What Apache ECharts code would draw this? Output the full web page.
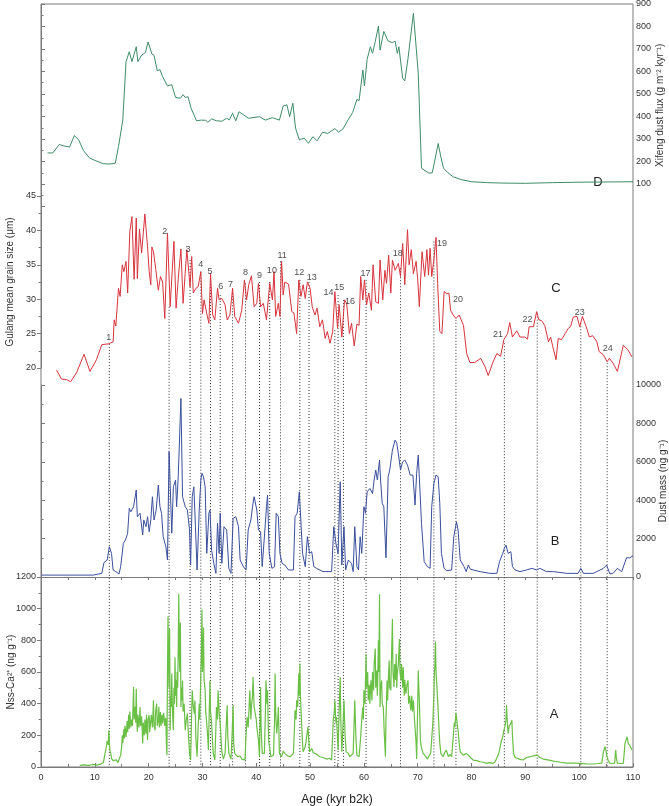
<!DOCTYPE html>
<html><head><meta charset="utf-8">
<script src="https://cdn.jsdelivr.net/npm/echarts@6.0.0/dist/echarts.min.js"></script>
<style>html,body{margin:0;padding:0;background:#fff}#c{width:669px;height:806px}</style>
</head><body><div id="c"></div>
<script>
// ---------- DATA ----------
// D: Xifeng dust flux (g m-2 kyr-1) vs age (kyr b2k)
const xifengFlux = [[1.2,238],[2.2,238],[3.4,276],[4.1,270],[5.3,264],[6.2,315],[7.0,296],[7.9,248],[9.0,216],[10.0,205],[11.6,190],[12.8,189],[13.8,192],[14.4,266],[15.2,384],[15.8,644],[16.4,688],[16.9,644],[17.7,710],[18.0,644],[18.7,673],[19.4,684],[19.9,731],[20.6,678],[21.0,672],[21.6,604],[22.1,608],[22.6,577],[23.5,536],[24.3,541],[25.0,485],[25.9,481],[26.4,497],[26.8,485],[27.3,488],[27.9,436],[28.9,381],[29.8,384],[30.6,383],[31.0,374],[31.7,389],[32.6,381],[33.6,379],[34.5,392],[35.0,385],[35.6,414],[36.2,381],[36.8,421],[37.6,408],[38.6,392],[39.4,395],[40.6,399],[41.7,384],[43.0,395],[44.3,384],[45.0,447],[45.7,452],[46.2,399],[46.8,459],[47.3,348],[48.0,296],[48.9,304],[49.7,281],[50.5,310],[51.3,292],[52.3,330],[53.3,325],[54.6,346],[55.3,331],[56.1,344],[56.9,379],[57.9,417],[58.7,476],[59.1,470],[59.8,607],[60.1,536],[60.6,654],[61.2,710],[61.6,681],[62.1,732],[62.7,802],[63.0,695],[63.7,778],[64.5,735],[65.3,728],[65.8,735],[66.2,681],[66.5,710],[67.2,570],[67.6,558],[68.2,659],[68.4,659],[69.2,859],[70.1,592],[70.7,170],[72.1,148],[72.7,150],[73.3,220],[73.8,280],[74.3,220],[74.8,170],[75.6,150],[76.6,132],[78.0,120],[80.0,110],[83.0,106],[86.0,104],[90.0,103],[95.0,106],[100.0,108],[105.0,109],[110.0,110]];

// C: Gulang mean grain size (um)
const gulangGrain = [[2.9,19.7],[3.8,18.4],[4.8,18.3],[5.5,18.0],[6.6,19.3],[8.0,22.0],[9.1,19.5],[10.3,21.2],[11.3,23.4],[12.5,23.5],[13.4,23.8],[13.6,27.0],[13.9,26.1],[14.4,31.6],[14.7,30.4],[15.1,35.0],[15.4,34.0],[15.8,35.5],[16.1,30.9],[16.5,39.8],[16.9,42.0],[17.3,32.9],[17.7,41.8],[17.9,33.0],[18.3,40.2],[18.7,36.7],[19.0,36.5],[19.3,42.4],[19.8,37.6],[20.1,34.0],[20.4,32.1],[20.6,37.6],[20.9,36.9],[21.3,34.5],[21.8,31.3],[22.2,33.3],[22.6,32.5],[23.0,27.2],[23.5,39.6],[24.0,28.9],[24.7,38.4],[25.1,28.7],[25.5,33.0],[26.0,37.3],[26.4,29.4],[27.1,37.2],[27.7,31.8],[28.0,36.2],[28.3,30.9],[28.8,31.6],[29.2,31.8],[29.7,34.0],[30.0,27.9],[30.3,29.9],[30.8,27.9],[31.2,26.5],[31.5,33.7],[31.9,27.7],[32.3,27.0],[32.8,31.6],[33.1,29.9],[33.6,30.1],[34.2,29.2],[34.6,27.0],[35.1,27.7],[35.6,31.6],[36.0,27.5],[36.7,26.5],[37.3,28.4],[37.8,32.8],[38.2,29.9],[38.6,32.1],[39.1,33.4],[39.6,28.9],[40.1,29.4],[40.4,32.3],[40.8,28.9],[41.3,29.4],[41.9,27.0],[42.5,32.3],[43.0,29.9],[43.3,34.0],[43.6,27.5],[44.1,29.4],[44.4,27.5],[44.7,35.5],[45.0,30.6],[45.3,32.5],[46.0,32.2],[46.6,28.2],[47.0,28.0],[47.5,25.0],[47.9,32.8],[48.3,30.4],[48.7,32.1],[49.1,30.1],[49.5,32.5],[50.0,31.6],[50.4,28.9],[50.9,27.7],[51.3,28.7],[51.8,26.0],[52.3,27.0],[52.8,24.3],[53.2,25.3],[53.7,23.6],[54.2,25.3],[54.6,31.1],[55.1,25.8],[55.4,29.2],[55.9,24.5],[56.4,29.9],[56.8,29.4],[57.3,25.0],[57.7,26.5],[58.2,23.2],[58.7,26.4],[59.1,26.2],[59.4,33.3],[59.8,29.9],[60.1,32.8],[60.5,29.2],[60.9,30.9],[61.4,28.4],[61.7,35.0],[62.2,29.6],[62.7,29.4],[63.0,35.7],[63.5,29.9],[63.9,34.2],[64.2,32.3],[64.6,36.4],[65.0,30.9],[65.3,35.7],[65.8,34.2],[66.4,35.2],[66.8,33.3],[67.2,38.1],[67.6,32.1],[68.1,40.1],[68.4,35.0],[68.8,37.2],[69.2,33.7],[69.7,35.5],[70.0,32.8],[70.3,28.9],[70.8,36.9],[71.3,33.3],[71.7,37.2],[72.0,33.5],[72.3,37.4],[72.6,33.3],[73.0,35.7],[73.4,39.0],[73.7,32.3],[74.1,25.3],[74.5,25.0],[74.9,31.1],[75.4,30.8],[75.8,30.9],[76.1,28.4],[76.6,27.7],[77.1,27.2],[77.7,27.7],[78.5,26.2],[79.1,22.1],[79.7,20.8],[80.6,20.8],[81.7,21.4],[82.5,20.2],[83.1,18.9],[83.9,20.7],[84.7,22.1],[85.4,21.7],[86.0,24.1],[86.7,25.0],[87.1,26.6],[87.6,24.5],[88.4,25.4],[89.0,24.5],[89.9,24.5],[90.4,24.2],[90.7,26.0],[91.5,26.0],[92.1,28.2],[92.5,27.0],[93.0,26.9],[93.6,26.2],[94.3,23.8],[94.7,24.5],[95.1,23.1],[95.7,21.2],[96.1,24.3],[96.7,24.1],[97.4,25.0],[98.0,25.8],[98.4,26.0],[98.9,27.4],[99.6,27.5],[100.1,26.0],[100.6,27.5],[101.3,26.0],[101.9,24.5],[102.5,24.7],[103.3,23.8],[103.7,22.4],[104.5,21.9],[105.2,20.9],[105.6,21.4],[106.3,20.7],[107.1,19.5],[108.2,23.3],[109.1,22.6],[109.8,21.6]];

// B: Dust mass (ng g-1)
const dustMass = [[0.1,100],[9.7,100],[11.3,190],[11.7,750],[12.3,885],[12.7,1580],[13.1,1230],[13.4,365],[13.9,280],[14.5,156],[14.8,540],[15.3,1750],[15.7,1930],[16.1,2280],[16.4,3580],[16.7,3400],[17.2,3660],[17.7,4530],[17.9,3140],[18.4,3320],[18.9,2190],[19.1,2970],[19.5,2620],[19.8,3140],[20.1,2360],[20.4,2970],[20.7,4180],[21.0,2970],[21.4,3490],[21.8,4790],[22.1,3660],[22.4,3320],[22.7,2100],[23.2,1580],[23.5,885],[23.8,6530],[24.1,6610],[24.3,2280],[24.6,4700],[25.0,5050],[25.2,3660],[25.5,5220],[26.0,9300],[26.3,4180],[26.8,3660],[27.2,3490],[27.6,2450],[27.8,625],[28.1,4180],[28.4,4700],[28.7,2620],[29.0,365],[29.4,3490],[29.7,5050],[29.9,5400],[30.2,5220],[30.5,4700],[30.8,1230],[31.2,3320],[31.4,3490],[31.7,1400],[32.1,710],[32.5,190],[32.8,2800],[33.1,1230],[33.3,3320],[33.6,710],[34.0,2620],[34.5,2450],[34.9,450],[35.3,190],[35.7,3050],[36.2,3140],[36.7,2620],[37.0,885],[37.6,540],[38.1,365],[38.5,2450],[39.0,2970],[39.3,3660],[39.6,4180],[40.1,3490],[40.4,2450],[40.8,2360],[41.1,540],[41.6,2450],[41.9,3660],[42.1,4270],[42.4,1230],[42.9,450],[43.4,540],[43.7,3320],[44.1,3140],[44.4,1230],[44.8,710],[45.3,625],[46.0,365],[46.9,365],[47.2,3140],[47.6,3320],[48.0,4440],[48.3,4350],[48.6,1230],[49.1,540],[49.5,2100],[49.9,1230],[50.3,1320],[50.7,540],[51.2,450],[52.4,280],[54.0,280],[54.4,2620],[54.8,1750],[55.2,1230],[55.6,4960],[55.9,625],[56.3,2620],[56.6,365],[57.1,885],[57.7,710],[58.0,280],[58.3,2620],[58.7,540],[59.0,365],[59.3,2100],[59.6,1230],[60.0,3660],[60.3,3320],[60.6,4440],[61.1,4610],[61.6,4350],[61.9,5050],[62.2,5570],[62.5,5050],[62.9,6090],[63.1,5050],[63.4,3840],[63.7,3660],[64.1,1000],[64.5,5220],[64.8,5570],[65.3,6610],[65.8,7130],[66.1,6960],[66.4,6440],[66.8,5570],[67.2,6000],[67.6,6090],[68.1,5830],[68.6,5310],[69.1,5310],[69.5,3750],[69.8,5400],[70.1,6350],[70.4,6350],[70.7,2800],[71.2,800],[71.8,540],[72.3,450],[72.6,3660],[73.0,4870],[73.4,5310],[73.8,5220],[74.1,3840],[74.4,1230],[74.9,450],[75.4,330],[76.3,365],[76.7,2100],[77.2,2880],[77.5,2450],[77.9,885],[78.2,800],[78.6,540],[79.0,280],[79.4,625],[79.8,400],[81.6,280],[83.4,190],[84.7,190],[85.2,800],[85.8,1230],[86.1,1490],[86.4,1660],[86.8,1230],[87.3,1320],[87.6,540],[88.1,365],[89.0,280],[90.2,365],[91.2,450],[92.1,365],[92.7,450],[93.9,280],[95.2,280],[97.7,190],[99.8,190],[100.3,450],[100.8,190],[102.6,190],[104.5,450],[105.1,625],[105.7,160],[106.3,190],[107.1,450],[107.9,280],[108.2,190],[108.8,1000],[109.4,1000],[110.0,1100]];

// A: Nss-Ca2+ (ng g-1)
const nssCa = [[7.2,10],[8.0,14],[8.8,10],[9.6,16],[10.4,12],[11.2,20],[11.6,28],[11.9,86],[12.1,120],[12.3,165],[12.5,140],[12.6,232],[12.7,150],[12.8,107],[13.0,80],[13.1,55],[13.4,40],[13.7,33],[14.0,45],[14.3,28],[14.5,23],[14.8,75],[15.0,130],[15.1,200],[15.2,150],[15.4,240],[15.5,180],[15.6,260],[15.8,190],[16.0,290],[16.1,220],[16.3,330],[16.4,240],[16.5,350],[16.7,250],[16.8,300],[17.0,260],[17.2,505],[17.3,300],[17.5,380],[17.6,280],[17.7,494],[17.8,300],[17.9,222],[18.0,330],[18.2,250],[18.4,379],[18.5,260],[18.7,320],[18.9,149],[19.0,280],[19.2,200],[19.3,300],[19.5,210],[19.6,330],[19.8,170],[19.9,300],[20.1,327],[20.2,220],[20.4,212],[20.5,330],[20.7,250],[20.9,421],[21.0,260],[21.2,232],[21.3,350],[21.5,400],[21.6,260],[21.8,295],[21.9,380],[22.0,250],[22.2,347],[22.3,260],[22.5,330],[22.6,275],[22.8,340],[23.0,260],[23.2,310],[23.3,150],[23.4,75],[23.5,600],[23.6,950],[23.7,650],[23.8,500],[23.9,873],[24.0,232],[24.1,450],[24.2,380],[24.3,590],[24.4,400],[24.5,300],[24.6,232],[24.7,500],[24.8,400],[24.9,693],[25.0,450],[25.1,550],[25.2,379],[25.3,600],[25.4,500],[25.5,750],[25.6,1093],[25.7,700],[25.8,600],[25.9,913],[26.0,379],[26.1,500],[26.2,420],[26.3,547],[26.4,350],[26.6,400],[26.8,232],[27.0,300],[27.2,337],[27.4,200],[27.6,88],[27.8,44],[28.0,350],[28.1,484],[28.3,380],[28.5,337],[28.6,420],[28.8,170],[29.0,65],[29.2,250],[29.4,400],[29.5,300],[29.7,590],[29.8,700],[29.9,995],[30.0,600],[30.1,700],[30.2,881],[30.3,550],[30.5,484],[30.6,350],[30.8,275],[31.0,180],[31.1,107],[31.3,400],[31.4,547],[31.5,350],[31.7,275],[31.9,150],[32.0,86],[32.3,44],[32.5,250],[32.6,379],[32.8,300],[32.9,484],[33.1,350],[33.3,275],[33.5,150],[33.6,96],[33.9,50],[34.2,86],[34.4,250],[34.6,390],[34.7,200],[34.9,86],[35.3,50],[35.5,200],[35.7,390],[35.8,150],[36.0,86],[36.5,65],[37.0,70],[37.3,50],[37.9,44],[38.1,200],[38.3,316],[38.5,250],[38.8,484],[39.0,300],[39.1,379],[39.3,450],[39.4,568],[39.6,380],[39.8,379],[40.0,300],[40.1,253],[40.4,170],[40.6,65],[40.7,300],[40.8,505],[40.9,250],[41.1,86],[41.5,86],[41.7,350],[41.8,547],[42.0,400],[42.1,484],[42.2,300],[42.3,170],[42.7,65],[43.2,75],[43.4,300],[43.5,590],[43.6,350],[43.8,212],[44.0,300],[44.1,379],[44.3,86],[44.7,65],[45.0,100],[45.3,86],[45.8,70],[46.3,65],[46.9,86],[47.1,250],[47.2,358],[47.4,300],[47.5,421],[47.7,380],[47.9,590],[48.0,450],[48.1,653],[48.2,450],[48.4,295],[48.6,150],[48.7,96],[49.0,120],[49.2,149],[49.4,200],[49.6,253],[49.8,150],[49.9,96],[50.3,117],[50.6,90],[50.9,86],[51.3,80],[51.8,65],[52.4,60],[53.1,50],[53.6,55],[54.0,44],[54.2,200],[54.3,295],[54.5,350],[54.6,421],[54.8,280],[54.9,316],[55.2,107],[55.4,350],[55.6,568],[55.7,300],[55.9,96],[56.1,250],[56.3,421],[56.5,200],[56.7,96],[57.1,86],[57.4,65],[58.0,86],[58.2,300],[58.3,421],[58.5,200],[58.7,75],[59.1,65],[59.4,191],[59.6,300],[59.8,379],[59.9,300],[60.0,484],[60.2,400],[60.4,714],[60.5,500],[60.7,600],[60.8,421],[61.0,520],[61.1,400],[61.3,547],[61.5,420],[61.6,600],[61.8,484],[61.9,650],[62.1,748],[62.2,500],[62.4,610],[62.5,450],[62.7,800],[62.8,600],[62.9,1091],[63.0,379],[63.1,500],[63.3,547],[63.4,400],[63.6,379],[63.8,200],[64.0,65],[64.1,300],[64.3,547],[64.4,420],[64.6,600],[64.7,672],[64.8,500],[65.0,484],[65.1,650],[65.3,934],[65.4,600],[65.6,505],[65.7,650],[65.9,550],[66.0,714],[66.1,500],[66.2,590],[66.4,650],[66.6,808],[66.7,600],[66.9,547],[67.0,650],[67.2,500],[67.3,630],[67.5,450],[67.6,550],[67.8,463],[68.0,520],[68.2,547],[68.3,400],[68.5,450],[68.7,358],[68.9,450],[69.0,350],[69.2,421],[69.4,300],[69.5,295],[69.7,150],[69.8,50],[70.0,400],[70.1,610],[70.2,500],[70.3,421],[70.5,170],[70.7,120],[71.0,86],[71.4,70],[71.8,50],[72.1,70],[72.4,86],[72.6,180],[72.8,275],[73.0,450],[73.1,590],[73.2,650],[73.3,792],[73.4,600],[73.6,484],[73.8,350],[74.0,212],[74.1,150],[74.3,86],[74.7,65],[75.0,90],[75.3,107],[75.7,65],[76.0,80],[76.3,65],[76.5,150],[76.6,191],[76.8,280],[76.9,253],[77.1,340],[77.2,316],[77.4,250],[77.5,232],[77.7,150],[77.9,96],[78.2,90],[78.5,75],[79.0,85],[79.4,75],[79.8,60],[80.3,44],[81.0,40],[81.6,33],[82.2,30],[82.8,23],[83.4,28],[84.0,23],[84.4,35],[84.7,44],[85.0,80],[85.2,107],[85.5,160],[85.8,191],[86.0,230],[86.2,253],[86.4,300],[86.5,390],[86.7,250],[86.8,212],[87.0,260],[87.3,275],[87.5,295],[87.6,200],[87.8,86],[88.1,60],[88.4,50],[89.0,48],[89.6,44],[90.2,60],[90.9,65],[91.5,70],[92.2,75],[92.7,60],[93.3,50],[94.2,45],[95.2,37],[96.5,30],[97.7,25],[99.0,24],[100.1,23],[101.3,20],[102.6,19],[103.5,22],[104.2,25],[104.4,70],[104.5,96],[104.8,128],[105.0,100],[105.1,75],[105.4,40],[105.7,25],[106.2,22],[106.6,25],[106.7,80],[106.8,107],[106.9,60],[107.1,25],[107.6,22],[108.2,23],[108.4,100],[108.5,149],[108.7,170],[108.9,191],[109.1,150],[109.3,149],[109.5,130],[109.8,107]];

// Interstadial events: age of dotted line, grain size where the line starts, label text and label anchor
const eventAges = [12.7,23.8,27.7,29.7,31.5,33.3,35.6,38.0,40.6,42.5,44.5,48.1,49.8,54.6,55.2,56.2,60.4,66.8,73.0,77.1,86.1,92.2,100.3,105.2];
const eventTops = [23.5,28.9,35.7,34.0,33.5,30.6,31.3,32.3,32.5,32.5,35.5,32.8,32.5,25.5,30.6,29.9,32.8,34.5,38.4,27.0,23.6,27.9,26.5,20.7];
const eventNames = ['1','2','3','4','5','6','7','8','9','10','11','12','13','14','15','16','17','18','19','20','21','22','23','24'];
const eventLabelAt = [[12.6,24.4],[23.0,39.8],[27.3,37.2],[29.7,35.0],[31.4,34.0],[33.4,31.9],[35.2,32.2],[38.0,33.9],[40.6,33.4],[42.9,34.2],[44.8,36.4],[48.0,33.9],[50.3,33.2],[53.4,31.0],[55.4,31.7],[57.4,29.6],[60.3,33.7],[66.3,36.7],[74.5,38.1],[77.5,30.0],[84.9,24.9],[90.4,27.0],[100.1,28.1],[105.3,22.8]];

const xTicksMin = 0, xTicksMax = 110;

// ---------- LAYOUT ----------
const L = 41, W = 592;
const D_TOP = 4, D_H = 202.5;
const C_TOP = 196, C_H = 172, C_MIN = 20, C_MAX = 45;
const B_TOP = 385, B_H = 192;
const A_TOP = 577, A_H = 190;
const BOTTOM = A_TOP + A_H;
const cBottomVal = C_MIN - (BOTTOM - (C_TOP + C_H)) * (C_MAX - C_MIN) / C_H;

const FONT = 'Liberation Sans, Arial, Helvetica, sans-serif';
const AX = '#7a7a7a', TXT = '#333';
const plain = v => String(v);

function grid(top, h, extra) {
  return Object.assign({left: L, width: W, top: top, height: h, containLabel: false, outerBoundsMode: 'none'}, extra || {});
}
function hiddenX(gi) {
  return {type: 'value', gridIndex: gi, min: xTicksMin, max: xTicksMax, show: false};
}
function yAx(gi, pos, min, max, interval, name, gap, extra) {
  return Object.assign({
    type: 'value', gridIndex: gi, position: pos, min: min, max: max, interval: interval,
    name: name, nameLocation: 'middle', nameRotate: 90, nameGap: gap, nameMoveOverlap: false,
    nameTextStyle: {fontFamily: FONT, fontSize: 10, color: TXT},
    axisLine: {show: true, lineStyle: {color: AX, width: 1}},
    axisTick: {show: true, inside: false, length: 4, lineStyle: {color: AX}},
    minorTick: {show: true, splitNumber: 2, length: 2.5, lineStyle: {color: AX}},
    axisLabel: {fontFamily: FONT, fontSize: 9, color: TXT, margin: pos === 'right' ? 3 : 5, formatter: plain},
    splitLine: {show: false}
  }, extra || {});
}

const eventLines = [];
eventAges.forEach((a, i) => {
  eventLines.push([a, eventTops[i]], [a, cBottomVal], [a, '-']);
});
const eventLabels = eventLabelAt.map((p, i) => ({value: p, name: eventNames[i]}));

const option = {
  animation: false,
  backgroundColor: '#fff',
  grid: [
    grid(D_TOP, BOTTOM - D_TOP, {show: true, borderColor: AX, borderWidth: 1, backgroundColor: 'transparent'}),
    grid(D_TOP, D_H),
    grid(C_TOP, C_H),
    grid(B_TOP, B_H),
    grid(A_TOP, A_H)
  ],
  xAxis: [
    hiddenX(0), hiddenX(1), hiddenX(2),
    {type: 'value', gridIndex: 3, min: xTicksMin, max: xTicksMax, interval: 5,
     axisLine: {show: true, lineStyle: {color: AX}},
     axisTick: {show: true, inside: false, length: 3, lineStyle: {color: AX}},
     axisLabel: {show: false}, splitLine: {show: false}},
    {type: 'value', gridIndex: 4, min: xTicksMin, max: xTicksMax, interval: 10,
     name: 'Age (kyr b2k)', nameLocation: 'middle', nameGap: 27,
     nameTextStyle: {fontFamily: FONT, fontSize: 12, color: '#222'},
     axisLine: {show: true, lineStyle: {color: AX}},
     axisTick: {show: true, inside: true, length: 4, lineStyle: {color: AX}},
     minorTick: {show: true, splitNumber: 2, length: 3, lineStyle: {color: AX}},
     axisLabel: {fontFamily: FONT, fontSize: 9, color: TXT, margin: 6},
     splitLine: {show: false}}
  ],
  yAxis: [
    {type: 'value', gridIndex: 0, show: false, min: 0, max: 1},
    yAx(1, 'right', 0, 900, 100, 'Xifeng dust flux (g m\u207B\u00B2 kyr\u207B\u00B9)', 22,
        {axisLabel: {fontFamily: FONT, fontSize: 9, color: TXT, margin: 3, formatter: v => v === 0 ? '' : String(v)}}),
    yAx(2, 'left', C_MIN, C_MAX, 5, 'Gulang mean grain size (\u03BCm)', 26),
    yAx(3, 'right', 0, 10000, 2000, 'Dust mass (ng g\u207B\u00B9)', 25),
    yAx(4, 'left', 0, 1200, 200, 'Nss-Ca\u00B2\u207A (ng g\u207B\u00B9)', 25)
  ],
  series: [
    {type: 'line', name: 'events', xAxisIndex: 2, yAxisIndex: 2, data: eventLines, clip: false,
     symbol: 'none', silent: true, z: 1, connectNulls: false,
     lineStyle: {color: '#333', width: 1, type: [1, 2]}},
    {type: 'line', name: 'D', xAxisIndex: 1, yAxisIndex: 1, data: xifengFlux, symbol: 'none',
     lineStyle: {color: '#3f8c68', width: 1}, z: 3},
    {type: 'line', name: 'C', xAxisIndex: 2, yAxisIndex: 2, data: gulangGrain, symbol: 'none', clip: false,
     lineStyle: {color: '#d8343d', width: 1}, z: 3},
    {type: 'scatter', name: 'eventLabels', xAxisIndex: 2, yAxisIndex: 2, data: eventLabels, symbolSize: 0,
     silent: true, z: 5,
     label: {show: true, position: 'inside', formatter: p => p.name, fontFamily: FONT, fontSize: 9, color: '#222'}},
    {type: 'line', name: 'B', xAxisIndex: 3, yAxisIndex: 3, data: dustMass, symbol: 'none',
     lineStyle: {color: '#3a4f9b', width: 1}, z: 3},
    {type: 'line', name: 'A', xAxisIndex: 4, yAxisIndex: 4, data: nssCa, symbol: 'none', clip: false,
     lineStyle: {color: '#6abf45', width: 1.2}, z: 3}
  ],
  graphic: [
    {type: 'text', style: {text: 'D', x: 598, y: 182, textAlign: 'center', textVerticalAlign: 'middle', font: '13px ' + FONT, fill: '#222'}},
    {type: 'text', style: {text: 'C', x: 556, y: 288, textAlign: 'center', textVerticalAlign: 'middle', font: '13px ' + FONT, fill: '#222'}},
    {type: 'text', style: {text: 'B', x: 555, y: 541, textAlign: 'center', textVerticalAlign: 'middle', font: '13px ' + FONT, fill: '#222'}},
    {type: 'text', style: {text: 'A', x: 554, y: 714, textAlign: 'center', textVerticalAlign: 'middle', font: '13px ' + FONT, fill: '#222'}}
  ]
};
const chart = echarts.init(document.getElementById('c'), null, {renderer: 'canvas'});
chart.setOption(option);
</script>
</body></html>
